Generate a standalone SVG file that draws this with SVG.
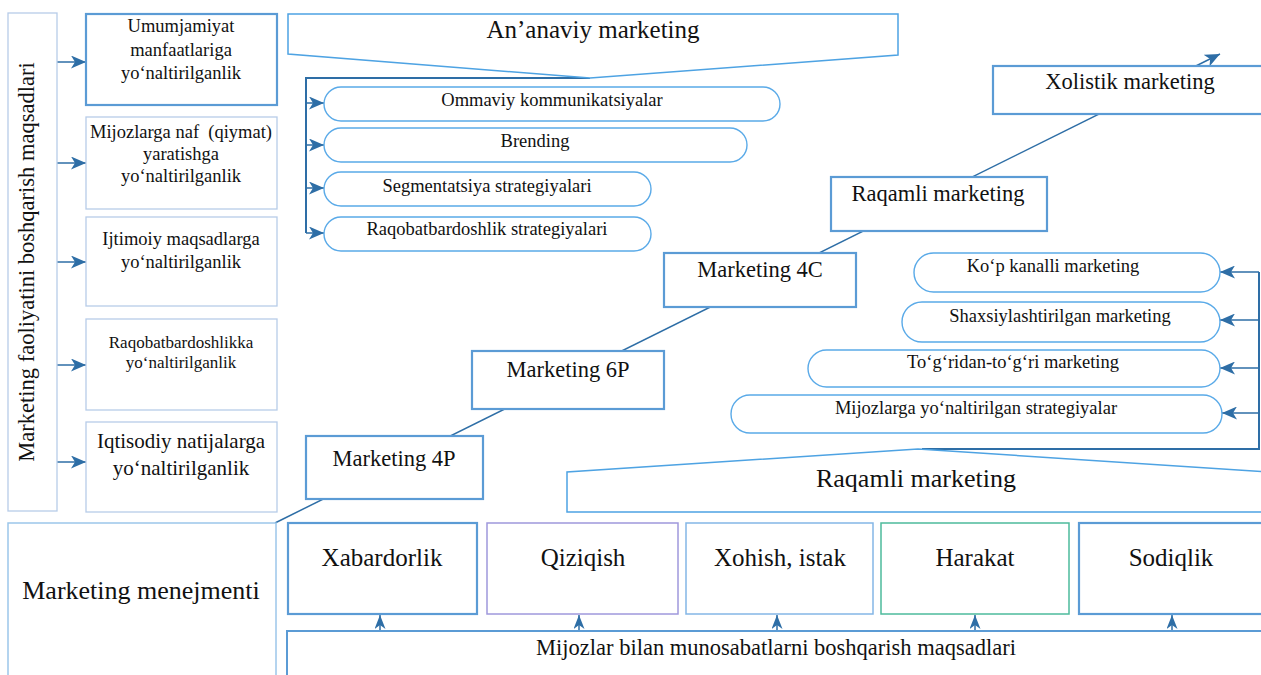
<svg xmlns="http://www.w3.org/2000/svg" width="1261" height="675" viewBox="0 0 1261 675">
<style>
text{font-family:"Liberation Serif","Times New Roman",serif;fill:#111;text-anchor:middle}
.thick{fill:#fff;stroke:#5b9bd5;stroke-width:2.2}
.light{fill:#fff;stroke:#b7cce9;stroke-width:1.3}
.call{fill:#fff;stroke:#4ea3e3;stroke-width:1.5}
.pill{fill:#fff;stroke:#5aaae8;stroke-width:1.4}
.con{fill:none;stroke:#2e6ea6;stroke-width:1.5}
.br{fill:none;stroke:#2e6ea6;stroke-width:2}
.t18{font-size:18.5px}
.t17{font-size:17px}
.t21{font-size:21px}
.t22{font-size:22.5px}
.t25{font-size:25px}
.t26{font-size:26px}
</style>
<defs>
<marker id="ah" viewBox="0 0 15 13" refX="15" refY="6.5" markerWidth="15" markerHeight="13" markerUnits="userSpaceOnUse" orient="auto"><path d="M0,0 L15,6.5 L0,13 L4,6.5 Z" fill="#2e6ea6"/></marker>
<marker id="ahs" viewBox="0 0 14 11" refX="14" refY="5.5" markerWidth="14" markerHeight="11" markerUnits="userSpaceOnUse" orient="auto"><path d="M0,0 L14,5.5 L0,11 L4,5.5 Z" fill="#2e6ea6"/></marker>
</defs>

<g id="connectors">
<line class="con" x1="275" y1="523" x2="1220" y2="54" marker-end="url(#ah)"/>
<line class="con" x1="57" y1="62" x2="86" y2="62" marker-end="url(#ah)"/>
<line class="con" x1="57" y1="163" x2="86" y2="163" marker-end="url(#ah)"/>
<line class="con" x1="57" y1="262" x2="86" y2="262" marker-end="url(#ah)"/>
<line class="con" x1="57" y1="365" x2="86" y2="365" marker-end="url(#ah)"/>
<line class="con" x1="57" y1="462" x2="86" y2="462" marker-end="url(#ah)"/>
<path class="br" d="M590,78 H306 V233"/>
<line class="con" x1="306" y1="103" x2="324" y2="103" marker-end="url(#ah)"/>
<line class="con" x1="306" y1="145" x2="324" y2="145" marker-end="url(#ah)"/>
<line class="con" x1="306" y1="188" x2="324" y2="188" marker-end="url(#ah)"/>
<line class="con" x1="306" y1="233" x2="324" y2="233" marker-end="url(#ah)"/>
<path class="br" d="M922,449 H1259 V272"/>
<line class="con" x1="1259" y1="272" x2="1220" y2="272" marker-end="url(#ah)"/>
<line class="con" x1="1259" y1="320" x2="1220" y2="320" marker-end="url(#ah)"/>
<line class="con" x1="1259" y1="368" x2="1220" y2="368" marker-end="url(#ah)"/>
<line class="con" x1="1259" y1="413" x2="1222" y2="413" marker-end="url(#ah)"/>
<line class="con" x1="380" y1="631" x2="380" y2="615" marker-end="url(#ahs)"/>
<line class="con" x1="579" y1="631" x2="579" y2="615" marker-end="url(#ahs)"/>
<line class="con" x1="777" y1="631" x2="777" y2="615" marker-end="url(#ahs)"/>
<line class="con" x1="975" y1="631" x2="975" y2="615" marker-end="url(#ahs)"/>
<line class="con" x1="1172" y1="631" x2="1172" y2="615" marker-end="url(#ahs)"/>
</g>

<g id="n-vertical">
<rect class="light" x="8" y="13" width="49" height="498"/>
<text class="t22" transform="translate(34,262) rotate(-90)">Marketing faoliyatini boshqarish maqsadlari</text>
</g>

<g id="n-umumjamiyat">
<rect class="thick" x="86" y="14" width="191" height="91"/>
<text class="t18" x="181" y="32">Umumjamiyat</text>
<text class="t18" x="181" y="56">manfaatlariga</text>
<text class="t18" x="181" y="79">yo‘naltirilganlik</text>
</g>
<g id="n-mijozlarga-naf">
<rect class="light" x="86" y="117" width="191" height="92"/>
<text class="t18" x="181" y="138" style="white-space:pre">Mijozlarga naf  (qiymat)</text>
<text class="t18" x="181" y="160">yaratishga</text>
<text class="t18" x="181" y="182">yo‘naltirilganlik</text>
</g>
<g id="n-ijtimoiy">
<rect class="light" x="86" y="217" width="191" height="89"/>
<text class="t18" x="181" y="245">Ijtimoiy maqsadlarga</text>
<text class="t18" x="181" y="268">yo‘naltirilganlik</text>
</g>
<g id="n-raqobat">
<rect class="light" x="86" y="319" width="191" height="91"/>
<text class="t17" x="181" y="348">Raqobatbardoshlikka</text>
<text class="t17" x="181" y="368">yo‘naltirilganlik</text>
</g>
<g id="n-iqtisodiy">
<rect class="light" x="86" y="422" width="191" height="90"/>
<text class="t21" x="181" y="448">Iqtisodiy natijalarga</text>
<text class="t21" x="181" y="475">yo‘naltirilganlik</text>
</g>

<g id="n-ananaviy">
<path class="call" d="M288,14 H898 V55 L590,78 L288,54 Z"/>
<text class="t25" x="593" y="38">An’anaviy marketing</text>
</g>
<g id="n-ommaviy">
<rect class="pill" x="324" y="87" width="456" height="34" rx="17"/>
<text class="t18" x="552" y="106">Ommaviy kommunikatsiyalar</text>
</g>
<g id="n-brending">
<rect class="pill" x="324" y="128" width="423" height="34" rx="17"/>
<text class="t18" x="535" y="147">Brending</text>
</g>
<g id="n-segment">
<rect class="pill" x="324" y="172" width="327" height="34" rx="17"/>
<text class="t18" x="487" y="192">Segmentatsiya strategiyalari</text>
</g>
<g id="n-raqobat-str">
<rect class="pill" x="324" y="217" width="327" height="34" rx="17"/>
<text class="t18" x="487" y="235">Raqobatbardoshlik strategiyalari</text>
</g>

<g id="n-xolistik">
<rect class="thick" x="993" y="66" width="280" height="48"/>
<text class="t22" x="1130" y="89">Xolistik marketing</text>
</g>
<g id="n-raqamli-top">
<rect class="thick" x="831" y="177" width="216" height="54"/>
<text class="t22" x="938" y="201">Raqamli marketing</text>
</g>
<g id="n-4c">
<rect class="thick" x="664" y="253" width="192" height="54"/>
<text class="t22" x="760" y="277">Marketing 4C</text>
</g>
<g id="n-6p">
<rect class="thick" x="472" y="351" width="192" height="58"/>
<text class="t22" x="568" y="377">Marketing 6P</text>
</g>
<g id="n-4p">
<rect class="thick" x="306" y="436" width="177" height="63"/>
<text class="t22" x="394" y="466">Marketing 4P</text>
</g>

<g id="n-kop">
<rect class="pill" x="914" y="253" width="306" height="39" rx="19.5"/>
<text class="t18" x="1053" y="272">Ko‘p kanalli marketing</text>
</g>
<g id="n-shaxsiy">
<rect class="pill" x="902" y="302" width="318" height="40" rx="20"/>
<text class="t18" x="1060" y="322">Shaxsiylashtirilgan marketing</text>
</g>
<g id="n-togridan">
<rect class="pill" x="808" y="350" width="412" height="37" rx="18.5"/>
<text class="t18" x="1013" y="368">To‘g‘ridan-to‘g‘ri marketing</text>
</g>
<g id="n-mijoz-str">
<rect class="pill" x="731" y="395" width="491" height="38" rx="19"/>
<text class="t18" x="976" y="414">Mijozlarga yo‘naltirilgan strategiyalar</text>
</g>

<g id="n-raqamli-bottom">
<path class="call" d="M567,512 V472 L918,449 L1300,474 V512 Z"/>
<text class="t26" x="916" y="487">Raqamli marketing</text>
</g>

<g id="n-menejment">
<rect x="8" y="523" width="268" height="170" fill="#fff" stroke="#9cc6ea" stroke-width="1.5"/>
<text class="t26" x="141" y="599">Marketing menejmenti</text>
</g>
<g id="n-xabardorlik">
<rect class="thick" x="288" y="523" width="189" height="91"/>
<text class="t25" x="382" y="566">Xabardorlik</text>
</g>
<g id="n-qiziqish">
<rect x="487" y="523" width="191" height="91" fill="#fff" stroke="#9f98dc" stroke-width="1.5"/>
<text class="t25" x="583" y="566">Qiziqish</text>
</g>
<g id="n-xohish">
<rect x="686" y="523" width="187" height="91" fill="#fff" stroke="#84b6e6" stroke-width="1.5"/>
<text class="t25" x="780" y="566">Xohish, istak</text>
</g>
<g id="n-harakat">
<rect x="881" y="523" width="188" height="91" fill="#fff" stroke="#4dbb9c" stroke-width="1.5"/>
<text class="t25" x="975" y="566">Harakat</text>
</g>
<g id="n-sodiqlik">
<rect class="thick" x="1079" y="523" width="200" height="91"/>
<text class="t25" x="1171" y="566">Sodiqlik</text>
</g>
<g id="n-mijozlar">
<rect x="287" y="631" width="990" height="60" fill="#fff" stroke="#5b9bd5" stroke-width="2"/>
<text class="t22" x="776" y="655">Mijozlar bilan munosabatlarni boshqarish maqsadlari</text>
</g>
</svg>
